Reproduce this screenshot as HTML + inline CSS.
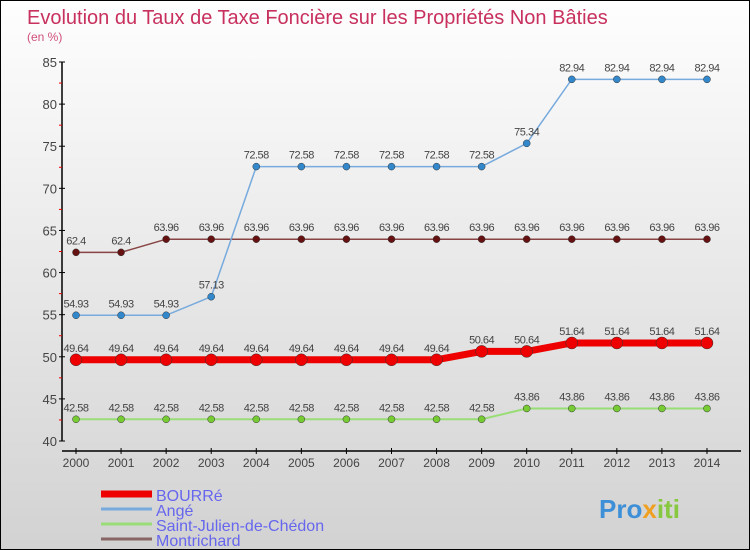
<!DOCTYPE html>
<html><head><meta charset="utf-8"><style>
html,body{margin:0;padding:0}
body{width:750px;height:550px;overflow:hidden;font-family:"Liberation Sans",sans-serif}
#wrap{position:absolute;left:0;top:0;width:748px;height:548px;border:1px solid #000;background:linear-gradient(#fefefe,#d2d2d2)}
</style></head><body>
<div id="wrap">
<svg id="chart" width="748" height="548" style="position:absolute;left:0;top:0">
<text x="26" y="23" font-size="20" fill="#c8305e">Evolution du Taux de Taxe Foncière sur les Propriétés Non Bâties</text>
<text x="26" y="40" font-size="12" fill="#d0507a">(en %)</text>
<g id="axes"></g><g id="series"></g><g id="legend"></g>
<text x="598" y="517" font-size="26" font-weight="bold" fill="#3d8fd8">Pro<tspan fill="#f0a020">x</tspan><tspan fill="#88c840">iti</tspan></text>
</svg>
</div>
<script>
const years=[2000,2001,2002,2003,2004,2005,2006,2007,2008,2009,2010,2011,2012,2013,2014];
const bourre=[49.64,49.64,49.64,49.64,49.64,49.64,49.64,49.64,49.64,50.64,50.64,51.64,51.64,51.64,51.64];
const ange=[54.93,54.93,54.93,57.13,72.58,72.58,72.58,72.58,72.58,72.58,75.34,82.94,82.94,82.94,82.94];
const stjulien=[42.58,42.58,42.58,42.58,42.58,42.58,42.58,42.58,42.58,42.58,43.86,43.86,43.86,43.86,43.86];
const montrichard=[62.4,62.4,63.96,63.96,63.96,63.96,63.96,63.96,63.96,63.96,63.96,63.96,63.96,63.96,63.96];
const yTicks=[40,45,50,55,60,65,70,75,80,85];
const seriesNames=["BOURRé","Angé","Saint-Julien-de-Chédon","Montrichard"];
const NS="http://www.w3.org/2000/svg";
const X=i=>75+i*45.07, Y=v=>440-(v-40)*(379/45);
function el(t,a,p){const e=document.createElementNS(NS,t);for(const k in a)e.setAttribute(k,a[k]);p.appendChild(e);return e;}
const ax=document.getElementById('axes');
let l=el('line',{x1:61,y1:61,x2:61,y2:440,stroke:'#000','stroke-width':1.5},ax);


l=el('line',{x1:61,y1:450,x2:740,y2:450,stroke:'#000','stroke-width':1.5},ax);


yTicks.forEach((v,i)=>{
  el('line',{x1:58,x2:64,y1:Y(v),y2:Y(v),stroke:'#000'},ax);
  if(i<yTicks.length-1) el('line',{x1:58,x2:61,y1:Y(v+2.5),y2:Y(v+2.5),stroke:'#e00'},ax);
  const t=el('text',{x:56,y:Y(v)+5,'text-anchor':'end','font-size':13,fill:'#444'},ax);
  t.textContent=v;
  
  
});
years.forEach((y,i)=>{
  el('line',{x1:X(i),x2:X(i),y1:447,y2:453,stroke:'#000'},ax);
  const t=el('text',{x:X(i),y:466,'text-anchor':'middle','font-size':12,fill:'#444'},ax);
  t.textContent=y;
  
  
});
const sg=document.getElementById('series');
function draw(data,color,w,r,fill,name){
  const g=el('g',{},sg);
  
  
  el('polyline',{points:data.map((v,i)=>X(i)+','+Y(v)).join(' '),fill:'none',stroke:color,'stroke-width':w},g);
  data.forEach((v,i)=>{
    const c=el('circle',{cx:X(i),cy:Y(v),r:r,fill:fill,stroke:'#333','stroke-width':0.5},g);
    
    
    const t=el('text',{x:X(i),y:Y(v)-8,'text-anchor':'middle','font-size':11,fill:'#444','letter-spacing':'-0.5'},g);
    t.textContent=String(v);
  });
}
draw(stjulien,'#99dd77',2,3.5,'#77cc33','series-saint-julien');
draw(montrichard,'#884444',1.5,3.5,'#661111','series-montrichard');
draw(ange,'#77aadd',1.5,3.5,'#3388cc','series-ange');
draw(bourre,'#ee0000',7,6,'#ee0000','series-bourre');
const lg=document.getElementById('legend');
const lc=['#ee0000','#77aadd','#99dd77','#886666'],lw=[7,3,3,3];
seriesNames.forEach((n,i)=>{
  const y=493+i*15;
  el('line',{x1:100,x2:151,y1:y,y2:y,stroke:lc[i],'stroke-width':lw[i]},lg);
  const t=el('text',{x:155,y:y+7,'font-size':16,fill:'#6666ee'},lg);
  t.textContent=n;
  
  
});
</script>
</body></html>
